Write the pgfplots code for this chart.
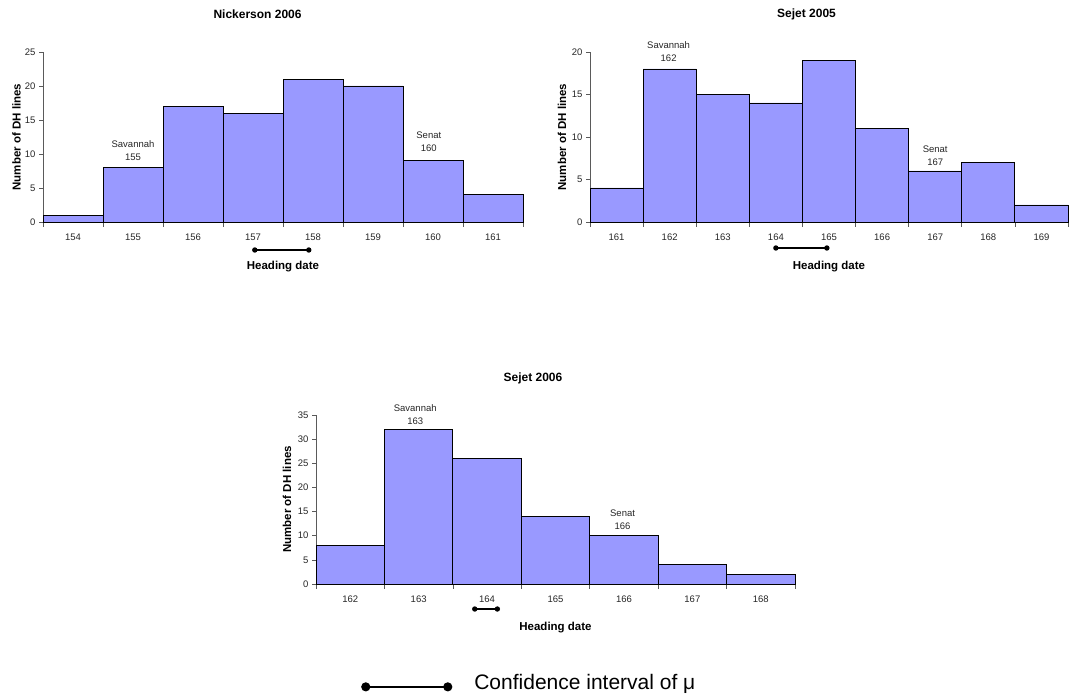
\documentclass[border=0pt]{standalone}
\usepackage{fontspec}
\setmainfont{Liberation Sans}
\usepackage{pgfplots}
\pgfplotsset{compat=1.18}

\definecolor{barfill}{RGB}{153,153,255}
\definecolor{axisgray}{RGB}{90,90,90}

\tikzset{
  note/.style={font=\fontsize{9.5}{13}\selectfont, align=center, anchor=center, text=black!85},
}

\pgfplotsset{
  dhhist/.style={
    scale only axis,
    axis lines=left,
    axis line style={-, axisgray, line width=0.7pt},
    enlargelimits=false,
    clip=false,
    ymin=0,
    tick align=outside,
    major tick length=4pt,
    minor tick length=5pt,
    tick style={axisgray, line width=0.7pt},
    major x tick style={draw=none},
    xticklabel shift=4pt,
    /pgf/number format/assume math mode=true,
    ticklabel style={font=\fontsize{9.5}{11}\selectfont, text=black!85},
    every axis title/.style={anchor=center, font=\bfseries\fontsize{12}{14}\selectfont},
    every axis y label/.style={rotate=90, anchor=center, font=\bfseries\fontsize{11.5}{13}\selectfont},
    every axis x label/.style={at={(axis description cs:0.5,-0.26)}, anchor=center, font=\bfseries\fontsize{11.5}{13}\selectfont},
    xlabel={Heading date},
    ylabel={Number of DH lines},
  },
  dhbars/.style={ybar, bar width=1, bar shift=0pt, fill=barfill, draw=black, line width=0.8pt},
  ci/.style={black, line width=1.1pt, mark=*, mark size=2.1pt, mark options={solid}},
}

\begin{document}
\begin{tikzpicture}
\useasboundingbox (0,0) rectangle (1070pt,698pt);

% Nickerson 2006
\begin{axis}[dhhist,
  at={(43pt,476pt)}, anchor=south west,
  width=480pt, height=170pt,
  xmin=153.5, xmax=161.5, ymax=25,
  xtick={154,...,161},
  minor xtick={153.5,154.5,...,161.5},
  ytick={0,5,...,25},
  title={Nickerson 2006},
  title style={at={(axis description cs:0.447,1.2235)}},
  ylabel style={at={(axis description cs:-0.055,0.5)}},
]
\addplot[dhbars] coordinates {(154,1) (155,8) (156,17) (157,16) (158,21) (159,20) (160,9) (161,4)};
\addplot[ci] coordinates {(157.03,-4.12) (157.93,-4.12)};
\node[note] at (axis cs:155.0,10.54) {Savannah\\155};
\node[note] at (axis cs:159.93,11.74) {Senat\\160};
\end{axis}

% Sejet 2005
\begin{axis}[dhhist,
  at={(590pt,476pt)}, anchor=south west,
  width=478pt, height=170pt,
  xmin=160.5, xmax=169.5, ymax=20,
  xtick={161,...,169},
  minor xtick={160.5,161.5,...,169.5},
  ytick={0,5,...,20},
  title={Sejet 2005},
  title style={at={(axis description cs:0.453,1.2235)}},
  ylabel style={at={(axis description cs:-0.0586,0.5)}},
]
\addplot[dhbars] coordinates {(161,4) (162,18) (163,15) (164,14) (165,19) (166,11) (167,6) (168,7) (169,2)};
\addplot[ci] coordinates {(164.0,-3.06) (164.96,-3.06)};
\node[note] at (axis cs:161.98,20.02) {Savannah\\162};
\node[note] at (axis cs:167.0,7.83) {Senat\\167};
\end{axis}

% Sejet 2006
\begin{axis}[dhhist,
  at={(316pt,114pt)}, anchor=south west,
  width=479pt, height=169pt,
  xmin=161.5, xmax=168.5, ymax=35,
  xtick={162,...,168},
  minor xtick={161.5,162.5,...,168.5},
  ytick={0,5,...,35},
  title={Sejet 2006},
  title style={at={(axis description cs:0.453,1.219)}},
  ylabel style={at={(axis description cs:-0.0605,0.5)}},
  legend style={at={(axis description cs:0.094,-0.585)}, anchor=west,
    draw=none, fill=none, inner sep=0pt,
    font=\fontsize{21}{25}\selectfont,
    cells={anchor=west},
    /tikz/every odd column/.style={column sep=20pt}},
  legend image code/.code={
    \draw[black, line width=2pt] (0pt,-4pt) -- (82pt,-4pt);
    \fill[black] (0pt,-4pt) circle (4pt) (82pt,-4pt) circle (4pt);
  },
]
\addplot[dhbars, forget plot] coordinates {(162,8) (163,32) (164,26) (165,14) (166,10) (167,4) (168,2)};
\addplot[ci] coordinates {(163.82,-5.18) (164.15,-5.18)};
\addlegendentry{Confidence interval of μ}
\node[note] at (axis cs:162.95,35.14) {Savannah\\163};
\node[note] at (axis cs:165.98,13.29) {Senat\\166};
\end{axis}
\end{tikzpicture}
\end{document}
